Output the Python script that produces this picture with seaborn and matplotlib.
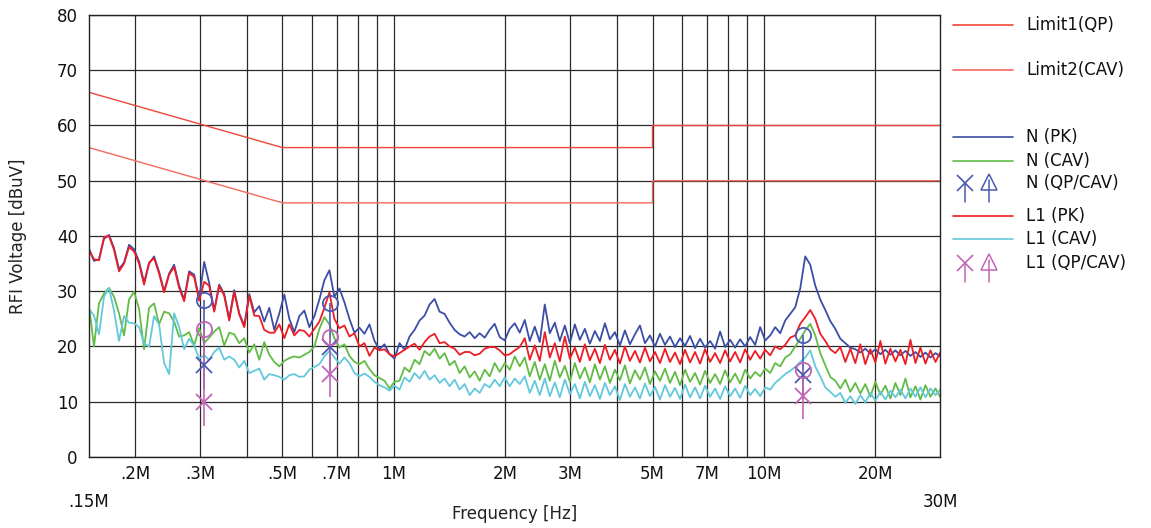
import numpy as np
import pandas as pd
import seaborn as sns
import matplotlib
matplotlib.use("Agg")
import matplotlib.pyplot as plt
from matplotlib.lines import Line2D

# --- sweep data [dBuV], log-spaced 0.15M .. 30M ---
n_pk = [37.7, 35.5, 35.8, 39.5, 40.2, 37.8, 34.0, 35.2, 38.4, 37.6,
        35.4, 31.6, 35.0, 36.3, 33.5, 30.0, 33.2, 34.8, 31.0, 28.5,
        33.6, 33.0, 28.6, 35.3, 31.5, 26.5, 31.2, 29.5, 25.0, 30.2,
        26.0, 23.8, 29.5, 26.2, 27.3, 24.5, 27.0, 23.0, 26.0, 29.4,
        25.0, 22.6, 25.5, 26.5, 23.5, 25.5, 28.5, 32.0, 33.8, 29.0,
        30.5, 28.0, 25.0, 22.5, 23.4, 22.3, 24.0, 21.0, 19.5, 20.4,
        18.6, 17.8, 20.6, 19.4, 21.8, 23.0, 24.7, 25.6, 27.6, 28.6,
        26.3, 25.9, 24.3, 23.0, 22.2, 21.8, 22.6, 21.5, 22.4, 21.6,
        23.0, 24.1, 21.7, 21.1, 23.2, 24.2, 22.5, 24.8, 21.0, 23.6,
        20.8, 27.6, 22.4, 24.3, 21.0, 23.8, 20.6, 24.0, 21.2, 23.2,
        20.5, 22.8, 21.0, 24.2, 21.3, 22.6, 20.2, 22.9, 20.4, 22.2,
        23.8, 20.6, 22.0, 20.0, 22.3, 20.3, 21.8, 19.9, 21.5, 20.1,
        21.9, 19.7, 21.4, 19.8, 21.0, 19.6, 22.7, 19.9, 21.2, 19.8,
        21.3, 20.0, 21.7, 20.3, 23.5, 21.1, 22.0, 23.5, 22.4, 24.7,
        25.9, 27.1, 30.5, 36.3, 34.8, 31.0, 28.5, 26.6, 24.6, 23.2,
        21.4, 20.6, 19.8, 19.5, 18.9, 19.6, 18.7, 19.5, 18.6, 19.4,
        18.5, 19.3, 18.4, 19.2, 18.3, 19.0, 18.1, 18.9, 18.0, 18.8, 18.2]

n_cav = [27.4, 20.0, 27.8, 29.6, 30.6, 29.0, 26.0, 22.0, 28.5, 29.9,
         26.8, 19.5, 27.0, 27.8, 24.0, 26.3, 26.0, 24.5, 21.8, 22.0,
         22.6, 20.2, 23.3, 20.6, 21.6, 22.7, 23.5, 20.2, 22.5, 22.2,
         20.6, 21.5, 18.9, 20.4, 17.6, 20.8, 18.5, 17.2, 16.4, 17.4,
         17.9, 18.2, 18.0, 18.5, 19.0, 20.0, 23.2, 25.3, 24.0, 21.5,
         19.8, 20.4, 18.3, 17.2, 16.8, 17.4, 15.9, 14.8, 14.3, 13.8,
         12.4, 13.6, 13.8, 16.2, 15.4, 17.6, 16.8, 19.2, 18.4, 19.6,
         17.8, 18.8, 16.6, 17.4, 15.2, 16.4, 14.4, 15.5, 13.8, 15.8,
         14.6, 17.0, 15.4, 17.0, 15.8, 18.2, 16.4, 18.0, 14.6, 17.2,
         14.0, 16.8, 13.8, 17.4, 14.4, 16.5, 13.6, 17.0, 14.2, 16.2,
         13.5, 16.8, 14.0, 16.4, 13.4, 15.8, 13.9, 16.6, 13.3, 15.7,
         14.0, 16.2, 13.2, 15.5, 13.8, 16.0, 13.4, 15.4, 13.0, 15.8,
         13.6, 15.2, 13.1, 15.6, 13.4, 15.0, 13.2, 15.7, 13.5, 15.1,
         13.3, 15.8, 14.2, 15.4, 14.6, 16.0, 15.2, 17.0, 16.4, 18.0,
         18.6, 20.0, 21.4, 22.9, 24.1, 22.0, 18.8, 16.6, 14.5, 13.8,
         12.4, 14.0, 11.8, 13.4, 11.5, 13.2, 10.9, 13.6, 11.3, 12.9,
         10.6, 13.4, 11.2, 14.2, 10.8, 12.8, 10.4, 13.0, 10.9, 12.4, 10.8]

l1_pk = [37.4, 35.8, 35.6, 39.8, 40.0, 37.5, 33.6, 35.0, 38.0, 37.2,
         35.0, 31.2, 35.2, 36.0, 33.2, 29.8, 33.0, 34.4, 30.6, 28.2,
         33.3, 32.6, 28.3, 31.7, 31.0, 26.3, 31.0, 29.2, 24.7, 29.9,
         25.8, 23.5, 29.2, 25.6, 25.5, 23.0, 22.5, 22.5, 24.0, 21.5,
         24.0, 22.0, 23.0, 22.8, 21.8, 23.2, 24.5, 27.0, 29.8, 25.0,
         23.3, 23.8, 21.8, 22.4, 20.0, 20.6, 18.3, 19.8, 19.3, 19.5,
         18.6, 18.2, 18.8, 19.4, 20.0, 20.5, 19.4, 20.8, 21.8, 22.3,
         20.6, 20.8, 20.0, 19.6, 18.5, 19.0, 19.0, 18.4, 18.7, 19.6,
         19.9, 19.9, 19.3, 18.4, 18.6, 19.3, 19.9, 21.5, 17.6, 20.2,
         17.4, 22.6, 18.0, 20.6, 17.3, 21.8, 17.8, 19.8, 17.2, 20.4,
         17.5, 19.6, 17.0, 20.3, 17.6, 19.4, 16.9, 20.0, 17.4, 19.2,
         17.1, 19.8, 17.3, 19.0, 17.0, 19.6, 17.2, 18.9, 16.8, 19.4,
         17.1, 19.0, 16.9, 19.5, 17.2, 18.8, 17.0, 19.3, 17.3, 19.0,
         17.1, 19.5, 17.6, 19.2, 17.8, 19.4, 18.4, 20.0, 19.5, 20.3,
         21.6, 22.0, 24.1, 25.3, 26.6, 25.0, 22.3, 21.0, 19.5, 18.8,
         19.9, 17.2, 19.6, 17.0, 20.4, 16.8, 19.5, 17.1, 21.0, 16.9,
         19.6, 17.3, 19.4, 16.8, 21.2, 17.0, 19.8, 16.9, 19.3, 17.2, 19.0]

l1_cav = [26.8, 25.6, 22.2, 29.0, 30.6, 26.5, 21.0, 25.5, 24.3, 24.2,
          23.5, 20.5, 20.0, 25.5, 24.0, 17.0, 15.0, 26.0, 23.5, 19.5,
          21.4, 20.2, 17.8, 18.4, 17.6, 19.0, 19.8, 17.6, 18.2, 17.6,
          16.2, 17.4, 15.2, 15.6, 16.0, 14.0, 15.0, 14.8, 14.5, 14.0,
          14.8, 15.0, 14.5, 14.6, 15.8, 16.3, 16.8, 18.2, 19.2, 18.0,
          16.9, 18.0, 17.0, 15.2, 14.6, 15.1, 14.5, 13.6, 13.0, 12.6,
          12.0, 12.9, 12.2, 14.4, 13.6, 15.2, 14.2, 15.6, 14.0, 14.8,
          13.4, 14.2, 12.8, 14.0, 12.2, 13.2, 11.2, 12.4, 11.6, 13.2,
          12.6, 14.0, 12.8, 14.4, 12.8, 14.2, 13.2, 14.6, 11.6, 13.8,
          11.2, 14.2, 11.0, 13.5, 10.8, 14.0, 11.4, 13.2, 10.6, 13.6,
          11.0, 13.0, 10.5, 13.4, 11.2, 12.8, 10.3, 13.2, 10.9, 12.6,
          10.6, 13.3, 11.0, 12.7, 10.4, 13.0, 10.9, 12.5, 10.5, 13.1,
          10.8, 12.6, 10.6, 12.9, 10.9, 12.4, 10.5, 12.8, 11.0, 12.4,
          10.7, 12.9, 11.2, 12.3, 11.0, 12.6, 12.2, 13.4, 14.2, 15.0,
          15.6, 16.3, 17.2, 18.0, 19.3, 16.4, 14.6, 12.6, 11.8, 10.9,
          11.6, 9.8, 11.0, 9.6, 11.2, 9.9, 11.6, 10.2, 11.8, 10.4,
          12.0, 10.8, 12.2, 10.6, 12.4, 10.9, 12.6, 10.8, 12.4, 11.2, 12.2]

# limit lines
limit_freq = [0.15e6, 0.5e6, 5e6, 5e6, 30e6]
limit1_qp = [66, 56, 56, 60, 60]
limit2_cav = [56, 46, 46, 50, 50]

# final measurements (QP circle, CAV cross)
meas_freq = [0.307e6, 0.674e6, 12.72e6]
n_qp = [28.4, 27.8, 22.0]
n_cavm = [16.6, 19.9, 14.8]
l1_qp = [23.2, 21.7, 15.7]
l1_cavm = [9.9, 15.1, 11.1]

grid_freq = [0.2e6, 0.3e6, 0.4e6, 0.5e6, 0.6e6, 0.7e6, 0.8e6, 0.9e6,
             1e6, 2e6, 3e6, 4e6, 5e6, 6e6, 7e6, 8e6, 9e6, 10e6, 20e6]
grid_text = ['.2M', '.3M', '', '.5M', '', '.7M', '', '',
             '1M', '2M', '3M', '', '5M', '', '7M', '', '', '10M', '20M']
edge_freq = [0.15e6, 30e6]
edge_text = ['.15M', '30M']

# colours
C_NPK = '#3b4ea6'
C_NCAV = '#62bb46'
C_LPK = '#ee1c24'
C_LCAV = '#64c8dc'
C_NMK = '#4a5ab2'
C_LMK = '#c266b4'
C_LIM1 = '#f2453a'
C_LIM2 = '#f36a5e'
TAIL = 4.3   # stem below the CAV cross, dB

sns.set_style("white")
plt.rcParams['font.family'] = ['DejaVu Sans']
plt.rcParams['font.size'] = 12
plt.rcParams['text.color'] = '#111111'
plt.rcParams['xtick.color'] = '#111111'
plt.rcParams['ytick.color'] = '#111111'
plt.rcParams['axes.labelcolor'] = '#222222'

fig = plt.figure(figsize=(11.51, 5.28), dpi=100)
ax = fig.add_axes([0.0773, 0.1345, 0.7398, 0.8371])

freq = np.geomspace(0.15e6, 30e6, len(n_pk))
df = pd.DataFrame({'freq': freq, 'N (PK)': n_pk, 'N (CAV)': n_cav,
                   'L1 (PK)': l1_pk, 'L1 (CAV)': l1_cav})

for col, c in [('N (PK)', C_NPK), ('N (CAV)', C_NCAV),
               ('L1 (PK)', C_LPK), ('L1 (CAV)', C_LCAV)]:
    sns.lineplot(data=df, x='freq', y=col, color=c, lw=1.3, ax=ax,
                 estimator=None, legend=False)

sns.lineplot(x=limit_freq, y=limit1_qp, color=C_LIM1, lw=1.0, ax=ax,
             estimator=None, sort=False, legend=False)
sns.lineplot(x=limit_freq, y=limit2_cav, color=C_LIM2, lw=1.0, ax=ax,
             estimator=None, sort=False, legend=False)

# final measurement markers
for qp, cav, c in [(n_qp, n_cavm, C_NMK), (l1_qp, l1_cavm, C_LMK)]:
    ax.vlines(meas_freq, np.array(cav) - TAIL, qp, color=c, lw=1.2, zorder=5)
    ax.plot(meas_freq, qp, ls='none', marker='o', ms=11, mfc='none',
            mec=c, mew=1.3, zorder=6)
    ax.plot(meas_freq, cav, ls='none', marker='x', ms=12, mew=1.3,
            color=c, zorder=6)

ax.set_xscale('log')
ax.set_xlim(0.15e6, 30e6)
ax.set_ylim(0, 80)
ax.set_yticks(range(0, 81, 10))
ax.set_xticks(grid_freq, labels=grid_text)
ax.set_xticks(edge_freq, labels=edge_text, minor=True)
ax.tick_params(axis='x', which='major', length=0, pad=6)
ax.tick_params(axis='x', which='minor', length=0, pad=26)
ax.tick_params(axis='y', length=0, pad=8)
ax.grid(True, which='major', color='#2a2a2a', lw=0.9)
ax.set_axisbelow(True)
for s in ax.spines.values():
    s.set_color('#222222')
    s.set_linewidth(1.0)

ax.set_xlabel('Frequency [Hz]', va='top')
ax.xaxis.set_label_coords(0.5, -0.108)
ax.set_ylabel('RFI Voltage [dBuV]')
ax.yaxis.set_label_coords(-0.073, 0.5)

# legend on the right, drawn in figure pixels
W, H = 1151, 528
def fx(x): return x / W
def fy(y): return 1 - y / H

legend_lines = [('Limit1(QP)', C_LIM1, 25), ('Limit2(CAV)', C_LIM2, 70),
                ('N (PK)', C_NPK, 137), ('N (CAV)', C_NCAV, 161),
                ('L1 (PK)', C_LPK, 216), ('L1 (CAV)', C_LCAV, 239)]
for name, c, y in legend_lines:
    fig.add_artist(Line2D([fx(953), fx(1013)], [fy(y), fy(y)], color=c, lw=1.2,
                          transform=fig.transFigure))
    fig.text(fx(1026), fy(y), name, va='center', ha='left')

for name, c, y in [('N (QP/CAV)', C_NMK, 183), ('L1 (QP/CAV)', C_LMK, 263)]:
    fig.add_artist(Line2D([fx(965), fx(965)], [fy(y), fy(y + 19)], color=c,
                          lw=1.1, transform=fig.transFigure))
    fig.add_artist(Line2D([fx(965)], [fy(y)], marker='x', ms=11, mew=1.2,
                          color=c, transform=fig.transFigure))
    fig.add_artist(Line2D([fx(989), fx(989)], [fy(y - 3), fy(y + 19)], color=c,
                          lw=1.1, transform=fig.transFigure))
    fig.add_artist(Line2D([fx(989)], [fy(y - 1)], marker='^', ms=11, mew=1.1,
                          mfc='none', mec=c, transform=fig.transFigure))
    fig.text(fx(1026), fy(y), name, va='center', ha='left')

fig.savefig('out.png', dpi=100)
